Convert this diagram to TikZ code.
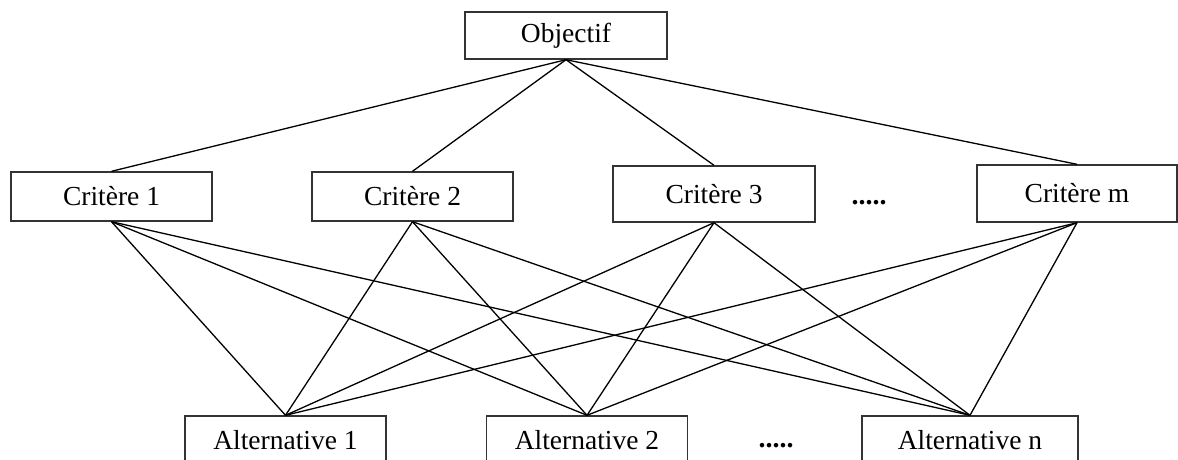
\documentclass[tikz,border=0pt]{standalone}
\usepackage{fontspec}
\setmainfont{Liberation Serif}
\begin{document}
\begin{tikzpicture}[x=1pt,y=-1pt,
  box/.style={draw=black!80,line width=1.4pt,fill=white,minimum width=201pt,
    minimum height=49pt,inner sep=0pt,font=\fontsize{27.5}{31}\selectfont},
  link/.style={line width=1.3pt,black},
  dots/.style={font=\fontsize{28}{31}\selectfont\bfseries,inner sep=0pt}]
\useasboundingbox (0,0) rectangle (1178,459);
\fill[white] (0,0) rectangle (1178,459);
\node[box,minimum width=202pt,minimum height=47pt] (obj) at (566,35.5) {Objectif};
\node[box] (c1) at (111.5,196.5) {Critère 1};
\node[box] (c2) at (412.5,196.5) {Critère 2};
\node[box,minimum width=202pt,minimum height=56pt] (c3) at (714,194) {Critère 3};
\node[box,minimum width=200pt,minimum height=57pt] (cm) at (1077,193.5) {Critère m};
\node[dots] (d1) at (869,203) {.....};
\node[box,minimum height=48pt] (a1) at (285.5,440) {Alternative 1};
\node[box,minimum height=48pt] (a2) at (587,440) {Alternative 2};
\node[box,minimum width=216pt,minimum height=48pt] (an) at (970,440) {Alternative n};
\node[dots] (d2) at (776,446) {.....};
\foreach \c in {c1,c2,c3,cm}{
  \draw[link] (obj.south) -- (\c.north);
  \foreach \a in {a1,a2,an}{
    \draw[link] (\c.south) -- (\a.north);
  }
}
\end{tikzpicture}
\end{document}
